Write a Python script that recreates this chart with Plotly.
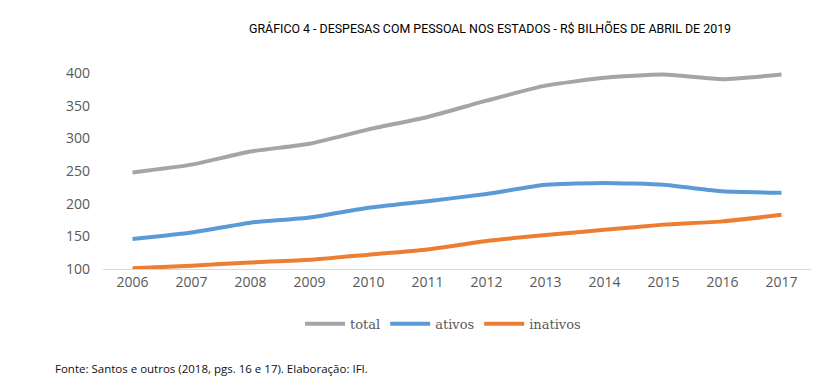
import plotly.graph_objects as go

years = ["2006", "2007", "2008", "2009", "2010", "2011", "2012", "2013", "2014", "2015", "2016", "2017"]
total = [248, 260, 280, 292, 314, 333, 358, 381, 393, 398, 391, 398]
ativos = [146, 156, 171, 179, 194, 204, 215, 229, 232, 229, 219, 217]
inativos = [101, 105, 110, 114, 122, 130, 143, 152, 160, 168, 173, 183]

W, H = 828, 388
L, R = 103, 17
T, B = 70, 119

fig = go.Figure()
series = [("total", total, "#A5A5A5"), ("ativos", ativos, "#5B9BD5"), ("inativos", inativos, "#ED7D31")]
for name, vals, col in series:
    fig.add_trace(go.Scatter(
        x=years, y=vals, name=name, mode="lines",
        line=dict(color=col, width=4, shape="spline", smoothing=0.5),
        hoverinfo="skip",
    ))

pw = W - L - R
ph = H - T - B
fig.update_layout(
    width=W, height=H,
    margin=dict(l=L, r=R, t=T, b=B),
    paper_bgcolor="white", plot_bgcolor="white",
    showlegend=True,
    legend=dict(
        orientation="h", x=(443 - L) / pw, xanchor="center",
        y=-0.2, yanchor="top",
        font=dict(family="DejaVu Serif", size=13, color="#595959"),
        itemwidth=40, tracegroupgap=0,
    ),
    xaxis=dict(
        type="category", range=[-0.5, 11.5],
        showgrid=False, showline=True, linecolor="#D9D9D9", linewidth=1,
        ticks="", tickfont=dict(family="Open Sans", size=14, color="#595959"),
        zeroline=False,
    ),
    yaxis=dict(
        range=[100, 405], tickvals=[100, 150, 200, 250, 300, 350, 400],
        showgrid=False, showline=False, zeroline=False, ticks="",
        ticklabelstandoff=12,
        tickfont=dict(family="Open Sans", size=14, color="#595959"),
    ),
    annotations=[
        dict(text="GRÁFICO 4 - DESPESAS COM PESSOAL NOS ESTADOS - R$ BILHÕES DE ABRIL DE 2019",
             xref="paper", yref="paper", x=(490 - L) / pw, y=1 + (T - 28) / ph,
             xanchor="center", yanchor="middle", showarrow=False,
             font=dict(family="Roboto", size=12.4, color="#000000")),
        dict(text="Fonte: Santos e outros (2018, pgs. 16 e 17). Elaboração: IFI.",
             xref="paper", yref="paper", x=(53 - L) / pw, y=-(368 - (H - B)) / ph,
             xanchor="left", yanchor="middle", showarrow=False,
             font=dict(family="Open Sans", size=11.5, color="#111111")),
    ],
)

fig.write_html("out.html", config={"displayModeBar": False},
               post_script="document.body.style.margin='0';document.body.style.padding='0';")
